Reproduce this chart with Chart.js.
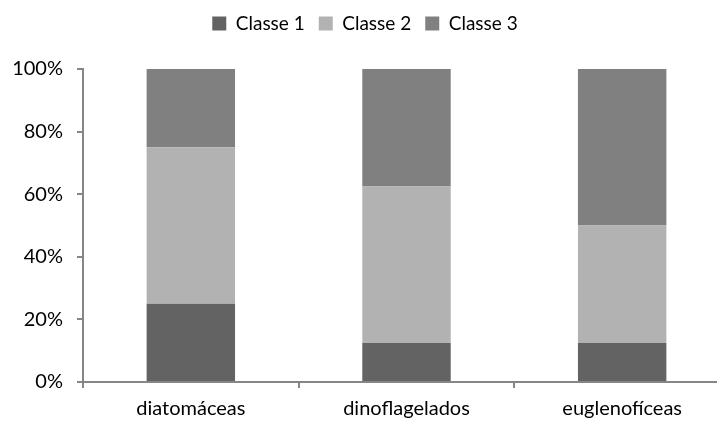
<!DOCTYPE html>
<html><head><meta charset="utf-8">
<script src="https://cdn.jsdelivr.net/npm/chart.js@4/dist/chart.umd.min.js"></script>
<style>
html,body{margin:0;padding:0;background:#fff;overflow:hidden;}
#wrap{width:730px;height:421px;position:relative;}
</style></head><body>
<div id="wrap"><canvas id="c"></canvas></div>
<script>
const categories = ["diatomáceas", "dinoflagelados", "euglenofíceas"];
const classe1 = [25, 12.5, 12.5];
const classe2 = [50, 50, 37.5];
const classe3 = [25, 37.5, 50];
const seriesNames = ["Classe 1", "Classe 2", "Classe 3"];
const seriesColors = ["#636363", "#b2b2b2", "#808080"];

const FONT = "Lato";
const legendSpace = {
  id: 'legendSpace',
  beforeInit(chart) {
    const orig = chart.legend.fit;
    chart.legend.fit = function () { orig.call(this); this.height += 26; };
  }
};
new Chart(document.getElementById('c'), {
  type: 'bar',
  data: {
    labels: categories,
    datasets: [classe1, classe2, classe3].map((d, i) => ({
      label: seriesNames[i], data: d, backgroundColor: seriesColors[i],
      borderWidth: 0, barPercentage: 0.41, categoryPercentage: 1
    }))
  },
  plugins: [legendSpace],
  options: {
    responsive: true, maintainAspectRatio: false, animation: false,
    layout: { padding: 0 },
    plugins: {
      tooltip: { enabled: false },
      legend: {
        position: 'top',
        labels: { color: '#000', font: { family: FONT, size: 19 }, boxWidth: 14, boxHeight: 14, padding: 14 }
      }
    },
    scales: {
      x: {
        stacked: true,
        grid: { display: true, drawOnChartArea: false, offset: true, color: '#868686', tickLength: 6, lineWidth: 2 },
        border: { color: '#868686', width: 2 },
        ticks: { color: '#000', font: { family: FONT, size: 20 }, padding: 9 },
        afterFit: s => { s.height = 39; }
      },
      y: {
        stacked: true, min: 0, max: 100,
        grid: { display: true, drawOnChartArea: false, color: '#868686', tickLength: 6, lineWidth: 2 },
        border: { color: '#868686', width: 2 },
        ticks: { stepSize: 20, color: '#000', font: { family: FONT, size: 20 }, padding: 14, callback: v => v + '%' },
        afterFit: s => { s.width = 83; }
      }
    }
  }
});
</script>
</body></html>
